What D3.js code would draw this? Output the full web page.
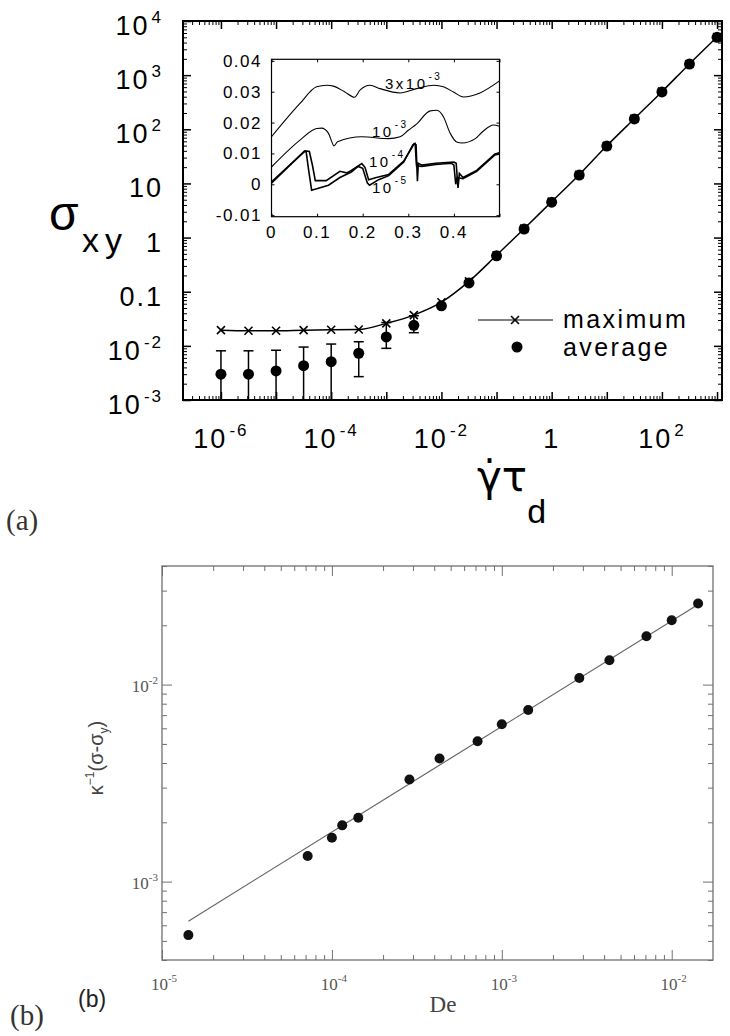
<!DOCTYPE html>
<html><head><meta charset="utf-8">
<script src="https://cdn.jsdelivr.net/npm/d3@7"></script>
<style>body{margin:0;background:#fff}svg{display:block}</style>
</head><body>
<svg id="chart" width="730" height="1036"></svg>
<script>
// ---------------- DATA: panel (a) ----------------
const rateA = [1e-6, 3.16e-6, 1e-5, 3.16e-5, 1e-4, 3.16e-4, 1e-3, 3.16e-3, 1e-2, 3.16e-2, 0.1, 0.316, 1, 3.16, 10, 31.6, 100, 316, 1000];
const avgA  = [3.0e-3, 3.0e-3, 3.45e-3, 4.3e-3, 5.1e-3, 7.3e-3, 0.0146, 0.024, 0.055, 0.145, 0.46, 1.44, 4.5, 14.3, 49, 155, 490, 1600, 5000];
const maxA  = [0.0195, 0.019, 0.019, 0.0195, 0.0198, 0.02, 0.026, 0.037, 0.064, 0.155, 0.47, 1.46, 4.6, 14.5, 49.5, 157, 495, 1610, 5050];
const errHighA = [8.1e-3, 8.1e-3, 8.3e-3, 9.5e-3, 0.0108, 0.0119, 0.027, 0.036];
const errLowA  = [1e-4, 1e-4, 1e-4, 1e-4, 1e-4, 2.7e-3, 9.0e-3, 0.0175];
const xDomainA = [2.05e-7, 1.23e3];
const yDomainA = [1e-3, 1e4];
const yTickValsA = [1e-3, 1e-2, 0.1, 1, 10, 100, 1000, 10000];
const yTickBaseA = ["10", "10", "0.1", "1", "10", "10", "10", "10"];
const yTickExpA  = ["-3", "-2", "", "", "", "2", "3", "4"];
const xTickValsA = [1e-6, 1e-4, 1e-2, 1, 100];
const xTickBaseA = ["10", "10", "10", "1", "10"];
const xTickExpA  = ["-6", "-4", "-2", "", "2"];
const legendA = ["maximum", "average"];

// ---------------- DATA: inset ----------------
const insetXDomain = [0, 0.5];
const insetYDomain = [-0.0105, 0.0405];
const insetXTicks = [0, 0.1, 0.2, 0.3, 0.4];
const insetXLabels = ["0", "0.1", "0.2", "0.3", "0.4"];
const insetYTicks = [-0.01, 0, 0.01, 0.02, 0.03, 0.04];
const insetYLabels = ["-0.01", "0", "0.01", "0.02", "0.03", "0.04"];
const curve3e3 = [[0,0.0154],[0.0625,0.0262],[0.099,0.0316],[0.121,0.0321],[0.136,0.0318],[0.16,0.0300],[0.182,0.0282],[0.194,0.0305],[0.216,0.0321],[0.238,0.0310],[0.282,0.0296],[0.318,0.0310],[0.356,0.0321],[0.377,0.0316],[0.40,0.0298],[0.421,0.0283],[0.457,0.0296],[0.50,0.0335]];
const curve1e3 = [[0,0.0056],[0.0625,0.0143],[0.099,0.0181],[0.11,0.0182],[0.125,0.0165],[0.133,0.0135],[0.137,0.0124],[0.145,0.0138],[0.198,0.0154],[0.257,0.0148],[0.282,0.0154],[0.30,0.0175],[0.318,0.0195],[0.348,0.0238],[0.363,0.0240],[0.377,0.0219],[0.392,0.0165],[0.406,0.0137],[0.418,0.0134],[0.447,0.0148],[0.464,0.0172],[0.487,0.0192],[0.5,0.0188]];
const curve1e4 = [[0,0.0008],[0.074,0.0108],[0.083,0.0106],[0.09,0.006],[0.096,0.0012],[0.12,0.0012],[0.15,0.0042],[0.165,0.0037],[0.175,0.0045],[0.198,0.0067],[0.205,0.0055],[0.213,0.0015],[0.23,0.0022],[0.257,0.0032],[0.29,0.0075],[0.313,0.0132],[0.317,0.0128],[0.32,0.001],[0.322,0.0068],[0.33,0.0062],[0.36,0.0068],[0.40,0.0072],[0.405,0.0068],[0.409,-0.0012],[0.412,0.0035],[0.42,0.0022],[0.45,0.0045],[0.49,0.0098],[0.5,0.0102]];
const curve1e5 = [[0,0.0004],[0.072,0.0107],[0.076,0.0105],[0.082,0.004],[0.088,-0.0019],[0.125,-0.0003],[0.15,0.0022],[0.175,0.004],[0.19,0.0058],[0.2,0.0052],[0.21,0.0005],[0.215,-0.0003],[0.235,0.0015],[0.257,0.0028],[0.29,0.0072],[0.31,0.0128],[0.315,0.0132],[0.318,0.006],[0.33,0.0058],[0.36,0.0064],[0.395,0.0068],[0.4,0.0062],[0.404,0.0],[0.407,0.0022],[0.42,0.0018],[0.45,0.0042],[0.49,0.0095],[0.5,0.0098]];
const curveLabelBase = ["3x10", "10", "10", "10"];
const curveLabelExp  = ["-3", "-3", "-4", "-5"];

// ---------------- DATA: panel (b) ----------------
const deB = [1.43e-5, 7.2e-5, 1.0e-4, 1.15e-4, 1.43e-4, 2.86e-4, 4.3e-4, 7.2e-4, 1.0e-3, 1.43e-3, 2.86e-3, 4.3e-3, 7.1e-3, 1.0e-2, 1.43e-2];
const stressB = [5.35e-4, 1.35e-3, 1.67e-3, 1.93e-3, 2.11e-3, 3.3e-3, 4.22e-3, 5.16e-3, 6.29e-3, 7.43e-3, 1.08e-2, 1.33e-2, 1.76e-2, 2.12e-2, 2.58e-2];
const fitDeB = [1.43e-5, 1.43e-2];
const fitStressB = [6.3e-4, 2.55e-2];
const xDomainB = [1e-5, 1.75e-2];
const yDomainB = [4e-4, 0.04];
const xTickValsB = [1e-5, 1e-4, 1e-3, 1e-2];
const xTickExpB = ["-5", "-4", "-3", "-2"];
const yTickValsB = [1e-3, 1e-2];
const yTickExpB = ["-3", "-2"];

// ---------------- DRAWING ----------------
const svg = d3.select("#chart");
const FA = "'Liberation Sans', Arial, Helvetica, sans-serif";
const FS = "'Liberation Serif', 'Times New Roman', serif";

function logMinorMajor(domain) {
  const [a, b] = domain, major = [], minor = [];
  for (let k = Math.floor(Math.log10(a)); k <= Math.ceil(Math.log10(b)); k++) {
    for (let m = 1; m <= 9; m++) {
      const v = m * Math.pow(10, k);
      if (v >= a * 0.9999 && v <= b * 1.0001) (m === 1 ? major : minor).push(v);
    }
  }
  return {major, minor};
}
function tickAxis(g, axisFn, scale, vals, size, color, width) {
  g.call(axisFn(scale).tickValues(vals).tickSize(size).tickFormat(""))
   .call(s => s.select(".domain").remove())
   .call(s => s.selectAll("line").attr("stroke", color).attr("stroke-width", width));
}
function supText(g, x, y, base, exp, o) {
  const t = g.append("text").attr("x", x).attr("y", y)
    .attr("font-family", o.family).attr("font-size", o.size)
    .attr("fill", o.fill || "#000").attr("text-anchor", o.anchor || "start")
    .attr("letter-spacing", o.ls || 0);
  t.append("tspan").text(base);
  if (exp) t.append("tspan").attr("dy", -o.supDy).attr("font-size", o.supSize)
    .attr("dx", o.supDx || 0).text(exp);
  return t;
}

// ===== Panel (a) =====
const A = {l: 183, r: 722, t: 21, b: 400};
const xA = d3.scaleLog().domain(xDomainA).range([A.l, A.r]);
const yA = d3.scaleLog().domain(yDomainA).range([A.b, A.t]);
const gA = svg.append("g");
svg.append("defs").append("clipPath").attr("id", "clipA")
  .append("rect").attr("x", A.l).attr("y", A.t).attr("width", A.r - A.l).attr("height", A.b - A.t);

const txA = logMinorMajor(xDomainA), tyA = logMinorMajor(yDomainA);
tickAxis(gA.append("g").attr("transform", `translate(0,${A.b})`), d3.axisBottom, xA, txA.minor, -4, "#000", 1);
tickAxis(gA.append("g").attr("transform", `translate(0,${A.b})`), d3.axisBottom, xA, txA.major, -8, "#000", 1.5);
tickAxis(gA.append("g").attr("transform", `translate(0,${A.t})`), d3.axisTop, xA, txA.minor, -4, "#000", 1);
tickAxis(gA.append("g").attr("transform", `translate(0,${A.t})`), d3.axisTop, xA, txA.major, -8, "#000", 1.5);
tickAxis(gA.append("g").attr("transform", `translate(${A.l},0)`), d3.axisLeft, yA, tyA.minor, -4, "#000", 1);
tickAxis(gA.append("g").attr("transform", `translate(${A.l},0)`), d3.axisLeft, yA, tyA.major, -8, "#000", 1.5);
tickAxis(gA.append("g").attr("transform", `translate(${A.r},0)`), d3.axisRight, yA, tyA.minor, -4, "#000", 1);
tickAxis(gA.append("g").attr("transform", `translate(${A.r},0)`), d3.axisRight, yA, tyA.major, -8, "#000", 1.5);
gA.append("rect").attr("x", A.l).attr("y", A.t).attr("width", A.r - A.l).attr("height", A.b - A.t)
  .attr("fill", "none").attr("stroke", "#000").attr("stroke-width", 2);

// tick labels
yTickValsA.forEach((v, i) => {
  supText(gA, 163, yA(v) + 14, yTickBaseA[i], yTickExpA[i],
    {family: FA, size: 27, anchor: "end", ls: 2, supSize: 17, supDy: 12, supDx: 2});
});
xTickValsA.forEach((v, i) => {
  supText(gA, xA(v), 448, xTickBaseA[i], xTickExpA[i],
    {family: FA, size: 27, anchor: "middle", ls: 2, supSize: 17, supDy: 12, supDx: 2});
});

// axis titles
gA.append("text").attr("x", 49).attr("y", 230).attr("font-family", FA).attr("font-size", 48).text("σ");
gA.append("text").attr("x", 82).attr("y", 252).attr("font-family", FA).attr("font-size", 34)
  .attr("letter-spacing", 6).text("xy");
const xt = gA.append("text").attr("x", 477).attr("y", 491).attr("font-family", "'DejaVu Sans', sans-serif").attr("font-size", 42);
xt.append("tspan").text("γ̇τ");
xt.append("tspan").attr("font-family", FA).attr("font-size", 34).attr("dy", 32).text("d");

// data
const plotA = gA.append("g").attr("clip-path", "url(#clipA)");
const lineA = d3.line().x(d => xA(d[0])).y(d => yA(d[1])).curve(d3.curveMonotoneX);
plotA.append("path").datum(rateA.map((r, i) => [r, maxA[i]])).attr("d", lineA)
  .attr("fill", "none").attr("stroke", "#000").attr("stroke-width", 1.5);
errHighA.forEach((h, i) => {
  const x = xA(rateA[i]);
  plotA.append("line").attr("x1", x).attr("x2", x).attr("y1", yA(errLowA[i])).attr("y2", yA(h))
    .attr("stroke", "#000").attr("stroke-width", 1.5);
  plotA.append("line").attr("x1", x - 5).attr("x2", x + 5).attr("y1", yA(h)).attr("y2", yA(h))
    .attr("stroke", "#000").attr("stroke-width", 1.5);
  if (errLowA[i] >= yDomainA[0])
    plotA.append("line").attr("x1", x - 5).attr("x2", x + 5).attr("y1", yA(errLowA[i])).attr("y2", yA(errLowA[i]))
      .attr("stroke", "#000").attr("stroke-width", 1.5);
});
const crossPath = "M-4,-4L4,4M-4,4L4,-4";
plotA.selectAll(".cross").data(rateA.map((r, i) => [r, maxA[i]])).enter().append("path")
  .attr("d", crossPath).attr("transform", d => `translate(${xA(d[0])},${yA(d[1])})`)
  .attr("stroke", "#000").attr("stroke-width", 1.6).attr("fill", "none");
plotA.selectAll(".dot").data(rateA.map((r, i) => [r, avgA[i]])).enter().append("circle")
  .attr("cx", d => xA(d[0])).attr("cy", d => yA(d[1])).attr("r", 5.5).attr("fill", "#000");

// legend
gA.append("line").attr("x1", 478).attr("x2", 553).attr("y1", 320).attr("y2", 320).attr("stroke", "#000").attr("stroke-width", 1);
gA.append("path").attr("d", crossPath).attr("transform", "translate(515,320)").attr("stroke", "#000").attr("stroke-width", 1.6);
gA.append("circle").attr("cx", 517).attr("cy", 347).attr("r", 5.5).attr("fill", "#000");
gA.append("text").attr("x", 563).attr("y", 328).attr("font-family", FA).attr("font-size", 25).attr("letter-spacing", 2.4).text(legendA[0]);
gA.append("text").attr("x", 563).attr("y", 356).attr("font-family", FA).attr("font-size", 25).attr("letter-spacing", 2.4).text(legendA[1]);

// ===== Inset =====
const I = {l: 271.5, r: 499.5, t: 59.3, b: 216.7};
const xI = d3.scaleLinear().domain(insetXDomain).range([I.l, I.r]);
const yI = d3.scaleLinear().domain(insetYDomain).range([I.b, I.t]);
const gI = svg.append("g");
gI.append("rect").attr("x", I.l).attr("y", I.t).attr("width", I.r - I.l).attr("height", I.b - I.t)
  .attr("fill", "#fff").attr("stroke", "#000").attr("stroke-width", 1.2);
tickAxis(gI.append("g").attr("transform", `translate(0,${I.b})`), d3.axisBottom, xI, insetXTicks.concat([0.5]), -3, "#000", 1);
tickAxis(gI.append("g").attr("transform", `translate(0,${I.t})`), d3.axisTop, xI, insetXTicks.concat([0.5]), -3, "#000", 1);
tickAxis(gI.append("g").attr("transform", `translate(${I.l},0)`), d3.axisLeft, yI, insetYTicks, -3, "#000", 1);
tickAxis(gI.append("g").attr("transform", `translate(${I.r},0)`), d3.axisRight, yI, insetYTicks, -3, "#000", 1);
insetYTicks.forEach((v, i) => {
  gI.append("text").attr("x", 262).attr("y", yI(v) + 6).attr("text-anchor", "end")
    .attr("font-family", FA).attr("font-size", 17).attr("letter-spacing", 1.5).text(insetYLabels[i]);
});
insetXTicks.forEach((v, i) => {
  gI.append("text").attr("x", xI(v)).attr("y", 238).attr("text-anchor", "middle")
    .attr("font-family", FA).attr("font-size", 17).attr("letter-spacing", 1.5).text(insetXLabels[i]);
});
const lineI = d3.line().x(d => xI(d[0])).y(d => yI(d[1]));
const lineIs = d3.line().x(d => xI(d[0])).y(d => yI(d[1])).curve(d3.curveMonotoneX);
gI.append("path").datum(curve3e3).attr("d", lineIs).attr("fill", "none").attr("stroke", "#000").attr("stroke-width", 1.1);
gI.append("path").datum(curve1e3).attr("d", lineIs).attr("fill", "none").attr("stroke", "#000").attr("stroke-width", 1.1);
gI.append("path").datum(curve1e5).attr("d", lineI).attr("fill", "none").attr("stroke", "#000").attr("stroke-width", 1.6);
gI.append("path").datum(curve1e4).attr("d", lineI).attr("fill", "none").attr("stroke", "#000").attr("stroke-width", 1.6);
const labPos = [[385, 89], [372, 137], [369, 167], [372, 193]];
labPos.forEach((p, i) => {
  supText(gI, p[0], p[1], curveLabelBase[i], curveLabelExp[i],
    {family: FA, size: 15, ls: 2.5, supSize: 10, supDy: 9, supDx: 1});
});

// ===== Panel (b) =====
const B = {l: 162, r: 713, t: 566, b: 960};
const GB = "#707070";
const xB = d3.scaleLog().domain(xDomainB).range([B.l, B.r]);
const yB = d3.scaleLog().domain(yDomainB).range([B.b, B.t]);
const gB = svg.append("g");
const txB = logMinorMajor(xDomainB), tyB = logMinorMajor(yDomainB);
tickAxis(gB.append("g").attr("transform", `translate(0,${B.b})`), d3.axisBottom, xB, txB.minor, -5, GB, 1);
tickAxis(gB.append("g").attr("transform", `translate(0,${B.b})`), d3.axisBottom, xB, txB.major, -10, GB, 1);
tickAxis(gB.append("g").attr("transform", `translate(0,${B.t})`), d3.axisTop, xB, txB.minor, -5, GB, 1);
tickAxis(gB.append("g").attr("transform", `translate(0,${B.t})`), d3.axisTop, xB, txB.major, -10, GB, 1);
tickAxis(gB.append("g").attr("transform", `translate(${B.l},0)`), d3.axisLeft, yB, tyB.minor, -5, GB, 1);
tickAxis(gB.append("g").attr("transform", `translate(${B.l},0)`), d3.axisLeft, yB, tyB.major, -10, GB, 1);
tickAxis(gB.append("g").attr("transform", `translate(${B.r},0)`), d3.axisRight, yB, tyB.minor, -5, GB, 1);
tickAxis(gB.append("g").attr("transform", `translate(${B.r},0)`), d3.axisRight, yB, tyB.major, -10, GB, 1);
gB.append("rect").attr("x", B.l).attr("y", B.t).attr("width", B.r - B.l).attr("height", B.b - B.t)
  .attr("fill", "none").attr("stroke", GB).attr("stroke-width", 1.3);
xTickValsB.forEach((v, i) => {
  supText(gB, xB(v) + 2, 990, "10", xTickExpB[i],
    {family: FS, size: 17, anchor: "middle", fill: "#555", supSize: 11, supDy: 8});
});
yTickValsB.forEach((v, i) => {
  supText(gB, 158, yB(v) + 7, "10", yTickExpB[i],
    {family: FS, size: 17, anchor: "end", fill: "#555", supSize: 11, supDy: 8});
});
gB.append("text").attr("x", 443).attr("y", 1012).attr("text-anchor", "middle")
  .attr("font-family", FS).attr("font-size", 23).attr("fill", "#444").text("De");
const yl = gB.append("text").attr("transform", "translate(103,758) rotate(-90)").attr("text-anchor", "middle")
  .attr("font-family", FA).attr("font-size", 20).attr("fill", "#444");
yl.append("tspan").text("κ");
yl.append("tspan").attr("font-size", 12).attr("dy", -9).text("−1");
yl.append("tspan").attr("dy", 9).text("(σ-σ");
yl.append("tspan").attr("font-size", 12).attr("dy", 5).text("y");
yl.append("tspan").attr("dy", -5).text(")");
gB.append("path").datum(fitDeB.map((d, i) => [d, fitStressB[i]]))
  .attr("d", d3.line().x(d => xB(d[0])).y(d => yB(d[1])))
  .attr("fill", "none").attr("stroke", "#666").attr("stroke-width", 1.2);
gB.selectAll(".dotb").data(deB.map((d, i) => [d, stressB[i]])).enter().append("circle")
  .attr("cx", d => xB(d[0])).attr("cy", d => yB(d[1])).attr("r", 5).attr("fill", "#111");

// panel labels
svg.append("text").attr("x", 6).attr("y", 530).attr("font-family", FS).attr("font-size", 29).attr("fill", "#333").text("(a)");
svg.append("text").attr("x", 10).attr("y", 1025).attr("font-family", FS).attr("font-size", 29).attr("fill", "#333").text("(b)");
svg.append("text").attr("x", 78).attr("y", 1007).attr("font-family", FA).attr("font-size", 23).attr("fill", "#222").text("(b)");
</script>
</body></html>
